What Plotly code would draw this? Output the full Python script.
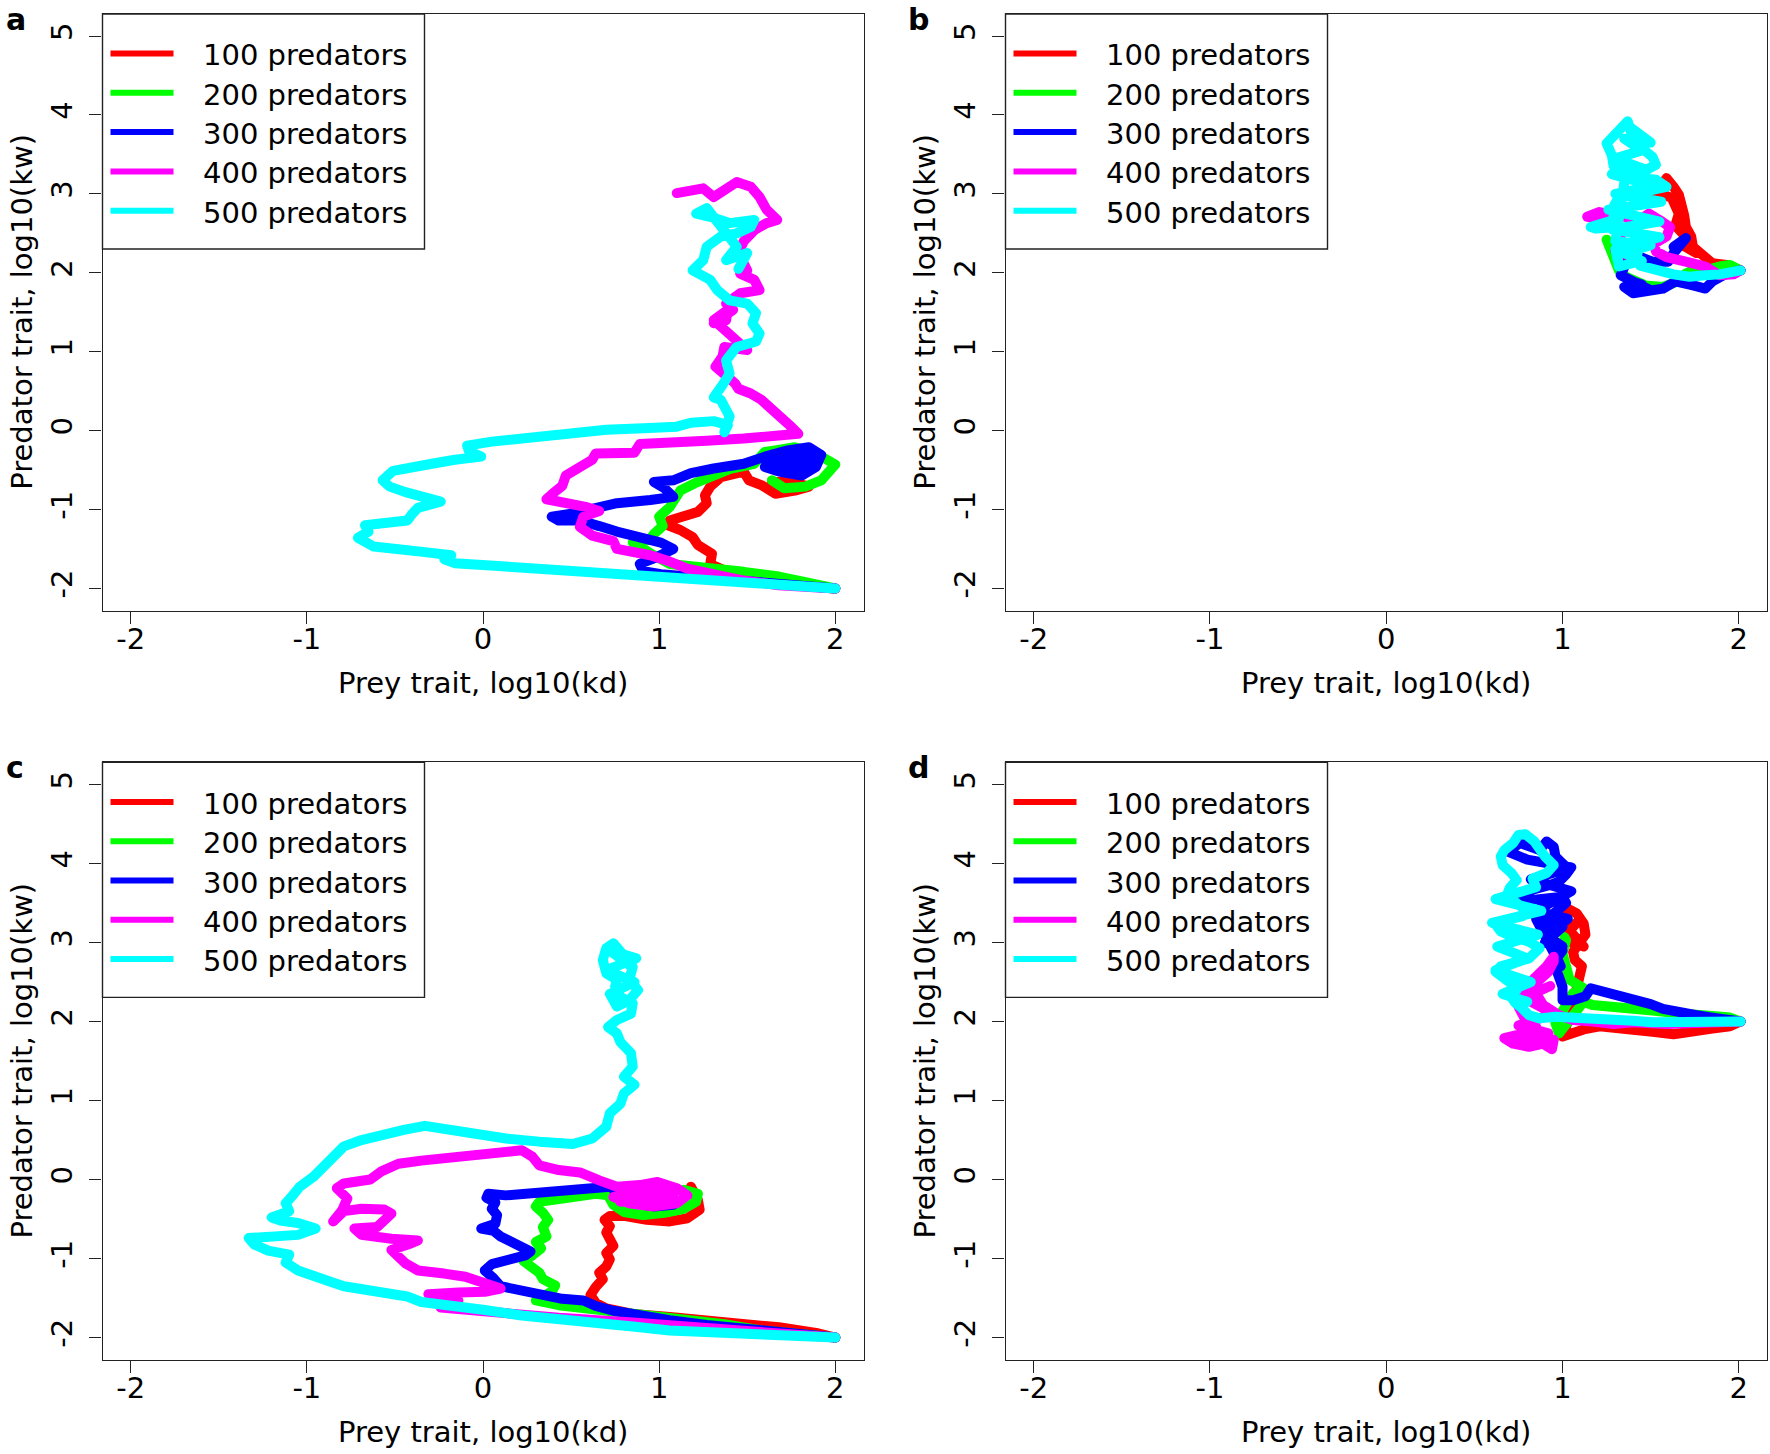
import plotly.graph_objects as go

# ---------------- data ----------------
SERIES = ["100 predators", "200 predators", "300 predators", "400 predators", "500 predators"]
COLORS = ["#FF0000", "#00FF00", "#0000FF", "#FF00FF", "#00FFFF"]
PANEL_LABELS = ["a", "b", "c", "d"]
X_TICKS = [-2, -1, 0, 1, 2]
X_TICK_TEXT = ["-2", "-1", "0", "1", "2"]
Y_TICKS = [-2, -1, 0, 1, 2, 3, 4, 5]
Y_TICK_TEXT = ["-2", "-1", "0", "1", "2", "3", "4", "5"]
X_TITLE = "Prey trait, log10(kd)"
Y_TITLE = "Predator trait, log10(kw)"

# panel a
A100_X = [2.00, 1.79, 1.58, 1.37, 1.29, 1.30, 1.22, 1.19, 1.12, 1.05, 1.06, 1.16, 1.22, 1.27, 1.26, 1.29, 1.35, 1.48, 1.51, 1.58, 1.66, 1.77, 1.85, 1.75, 1.64]
A100_Y = [-2.00, -1.96, -1.88, -1.77, -1.69, -1.56, -1.45, -1.35, -1.26, -1.20, -1.14, -1.09, -1.03, -0.92, -0.82, -0.71, -0.59, -0.52, -0.63, -0.69, -0.80, -0.76, -0.71, -0.65, -0.65]
A200_X = [2.00, 1.79, 1.68, 1.48, 1.27, 1.06, 0.97, 0.89, 0.85, 0.95, 0.97, 1.02, 1.00, 1.06, 1.10, 1.12, 1.20, 1.31, 1.41, 1.54, 1.60, 1.66, 1.77, 1.89, 2.00, 1.92, 1.83, 1.71, 1.64]
A200_Y = [-2.00, -1.90, -1.85, -1.79, -1.73, -1.69, -1.58, -1.47, -1.42, -1.38, -1.31, -1.21, -1.09, -0.97, -0.86, -0.76, -0.67, -0.57, -0.48, -0.42, -0.27, -0.25, -0.21, -0.29, -0.43, -0.63, -0.71, -0.73, -0.63]
A300_X = [2.00, 1.68, 1.27, 1.01, 0.91, 0.89, 0.97, 1.08, 1.01, 0.93, 0.85, 0.76, 0.66, 0.55, 0.43, 0.39, 0.51, 0.62, 0.76, 0.95, 1.08, 1.03, 0.97, 1.08, 1.18, 1.31, 1.48, 1.60, 1.73, 1.85, 1.92, 1.89, 1.81, 1.68, 1.60, 1.73, 1.85, 1.75, 1.65, 1.80, 1.90]
A300_Y = [-2.00, -1.95, -1.88, -1.82, -1.78, -1.69, -1.62, -1.50, -1.42, -1.38, -1.33, -1.28, -1.21, -1.14, -1.14, -1.09, -1.05, -0.99, -0.92, -0.88, -0.84, -0.73, -0.65, -0.63, -0.54, -0.48, -0.42, -0.33, -0.25, -0.21, -0.31, -0.46, -0.57, -0.52, -0.46, -0.38, -0.42, -0.46, -0.35, -0.30, -0.38]
A400_X = [2.00, 1.68, 1.48, 1.27, 1.16, 1.06, 0.95, 0.76, 0.74, 0.62, 0.55, 0.57, 0.66, 0.59, 0.43, 0.36, 0.40, 0.45, 0.47, 0.55, 0.62, 0.64, 0.76, 0.86, 0.89, 1.06, 1.27, 1.48, 1.68, 1.79, 1.75, 1.68, 1.64, 1.58, 1.52, 1.45, 1.43, 1.35, 1.32, 1.36, 1.37, 1.50, 1.43, 1.35, 1.31, 1.39, 1.38, 1.31, 1.42, 1.38, 1.46, 1.57, 1.54, 1.46, 1.50, 1.45, 1.48, 1.54, 1.61, 1.67, 1.61, 1.57, 1.52, 1.44, 1.38, 1.31, 1.25, 1.16, 1.10]
A400_Y = [-2.00, -1.96, -1.90, -1.82, -1.75, -1.66, -1.58, -1.50, -1.40, -1.33, -1.22, -1.09, -1.02, -0.97, -0.92, -0.87, -0.79, -0.70, -0.57, -0.46, -0.37, -0.29, -0.27, -0.28, -0.17, -0.16, -0.13, -0.10, -0.08, -0.04, 0.05, 0.20, 0.26, 0.39, 0.47, 0.53, 0.60, 0.75, 0.81, 0.94, 1.06, 1.02, 1.17, 1.32, 1.40, 1.53, 1.40, 1.36, 1.53, 1.61, 1.74, 1.78, 1.91, 1.99, 2.03, 2.25, 2.40, 2.54, 2.63, 2.67, 2.80, 2.96, 3.09, 3.15, 3.05, 2.96, 3.07, 3.05, 3.01]
A500_X = [2.00, 1.68, 1.27, 0.85, 0.43, 0.07, -0.16, -0.22, -0.18, -0.33, -0.48, -0.62, -0.71, -0.65, -0.67, -0.55, -0.43, -0.40, -0.37, -0.24, -0.35, -0.44, -0.53, -0.57, -0.51, -0.41, -0.29, -0.16, -0.01, -0.08, -0.09, 0.05, 0.26, 0.49, 0.70, 0.91, 1.10, 1.18, 1.31, 1.39, 1.37, 1.40, 1.35, 1.31, 1.36, 1.40, 1.38, 1.44, 1.55, 1.57, 1.53, 1.55, 1.50, 1.40, 1.33, 1.29, 1.19, 1.25, 1.27, 1.35, 1.44, 1.52, 1.54, 1.40, 1.29, 1.21, 1.27, 1.31, 1.44, 1.38, 1.50, 1.45]
A500_Y = [-2.00, -1.95, -1.89, -1.82, -1.76, -1.72, -1.68, -1.63, -1.58, -1.54, -1.50, -1.47, -1.36, -1.28, -1.20, -1.17, -1.14, -1.05, -0.98, -0.90, -0.85, -0.78, -0.71, -0.63, -0.51, -0.46, -0.42, -0.37, -0.33, -0.26, -0.19, -0.14, -0.09, -0.05, 0.01, 0.03, 0.05, 0.10, 0.12, 0.07, -0.02, 0.18, 0.39, 0.42, 0.58, 0.72, 0.89, 1.06, 1.13, 1.23, 1.36, 1.49, 1.61, 1.65, 1.78, 1.91, 2.03, 2.16, 2.33, 2.46, 2.50, 2.58, 2.67, 2.63, 2.71, 2.75, 2.82, 2.71, 2.33, 2.16, 2.25, 2.05]

# panel b
B100_X = [2.01, 1.93, 1.85, 1.80, 1.74, 1.73, 1.70, 1.69, 1.68, 1.66, 1.63, 1.59, 1.56, 1.51, 1.46, 1.55, 1.62, 1.66, 1.64, 1.70, 1.68, 1.76]
B100_Y = [2.03, 2.10, 2.12, 2.20, 2.33, 2.46, 2.58, 2.73, 2.88, 2.99, 3.09, 3.20, 3.11, 3.05, 3.08, 3.02, 2.95, 2.75, 2.60, 2.45, 2.35, 2.25]
B200_X = [2.01, 1.95, 1.89, 1.81, 1.76, 1.70, 1.63, 1.57, 1.47, 1.36, 1.32, 1.29, 1.26, 1.25]
B200_Y = [2.03, 2.10, 2.08, 2.03, 2.06, 1.99, 1.87, 1.82, 1.84, 1.95, 2.03, 2.20, 2.33, 2.42]
B300_X = [2.01, 1.93, 1.85, 1.81, 1.74, 1.64, 1.57, 1.47, 1.40, 1.35, 1.45, 1.38, 1.50, 1.33, 1.36, 1.44, 1.51, 1.60, 1.63, 1.68, 1.70, 1.63]
B300_Y = [2.03, 1.99, 1.89, 1.80, 1.84, 1.89, 1.80, 1.75, 1.74, 1.82, 1.85, 1.90, 1.78, 1.97, 2.12, 2.20, 2.14, 2.14, 2.25, 2.37, 2.44, 2.33]
B400_X = [2.01, 1.97, 1.89, 1.81, 1.74, 1.66, 1.59, 1.53, 1.52, 1.59, 1.61, 1.55, 1.49, 1.44, 1.36, 1.29, 1.21, 1.14, 1.19, 1.27, 1.33, 1.30, 1.37]
B400_Y = [2.03, 1.98, 1.97, 2.08, 2.12, 2.16, 2.20, 2.27, 2.37, 2.46, 2.58, 2.67, 2.75, 2.67, 2.71, 2.75, 2.77, 2.71, 2.69, 2.73, 2.45, 2.28, 2.22]
B500_X = [2.01, 1.97, 1.89, 1.81, 1.72, 1.63, 1.51, 1.44, 1.42, 1.44, 1.40, 1.32, 1.19, 1.16, 1.29, 1.29, 1.32, 1.40, 1.51, 1.59, 1.53, 1.44, 1.36, 1.47, 1.53, 1.51, 1.46, 1.45, 1.39, 1.37, 1.33, 1.28, 1.25, 1.28, 1.29, 1.36, 1.30, 1.50, 1.35, 1.45, 1.32, 1.30, 1.55, 1.28, 1.55, 1.26, 1.56, 1.30, 1.52, 1.28, 1.48, 1.30, 1.45, 1.35, 1.50, 1.38]
B500_Y = [2.03, 2.01, 1.98, 1.97, 1.95, 1.98, 2.03, 2.09, 2.20, 2.37, 2.50, 2.58, 2.56, 2.58, 2.67, 2.84, 2.96, 3.03, 3.05, 3.09, 3.18, 3.20, 3.22, 3.30, 3.37, 3.47, 3.56, 3.66, 3.77, 3.92, 3.83, 3.75, 3.64, 3.49, 3.35, 3.28, 2.40, 2.35, 2.25, 2.15, 2.08, 2.30, 2.45, 2.55, 2.65, 2.80, 2.90, 3.00, 3.10, 3.25, 3.30, 3.45, 3.55, 3.70, 3.65, 3.85]

# panel c
C100_X = [2.00, 1.89, 1.68, 1.48, 1.27, 1.06, 0.85, 0.70, 0.64, 0.61, 0.64, 0.68, 0.66, 0.70, 0.72, 0.70, 0.74, 0.72, 0.70, 0.72, 0.69, 0.72, 0.80, 0.93, 1.06, 1.16, 1.23, 1.22, 1.18]
C100_Y = [-2.00, -1.94, -1.87, -1.82, -1.78, -1.74, -1.70, -1.63, -1.56, -1.46, -1.36, -1.26, -1.18, -1.10, -1.01, -0.93, -0.84, -0.76, -0.67, -0.59, -0.51, -0.46, -0.46, -0.51, -0.53, -0.49, -0.38, -0.26, -0.09]
C200_X = [2.00, 1.79, 1.58, 1.37, 1.16, 0.95, 0.74, 0.59, 0.43, 0.30, 0.39, 0.41, 0.34, 0.32, 0.27, 0.23, 0.28, 0.33, 0.30, 0.36, 0.34, 0.37, 0.34, 0.30, 0.32, 0.43, 0.55, 0.64, 0.71, 0.74, 0.80, 0.91, 1.03, 1.14, 1.21, 1.22, 1.14]
C200_Y = [-2.00, -1.97, -1.91, -1.83, -1.78, -1.73, -1.69, -1.64, -1.59, -1.53, -1.42, -1.34, -1.26, -1.18, -1.11, -1.03, -0.96, -0.87, -0.79, -0.72, -0.60, -0.51, -0.42, -0.34, -0.28, -0.25, -0.22, -0.18, -0.20, -0.32, -0.41, -0.45, -0.42, -0.37, -0.28, -0.18, -0.13]
C300_X = [2.00, 1.79, 1.48, 1.27, 1.06, 0.85, 0.74, 0.64, 0.57, 0.45, 0.30, 0.18, 0.10, 0.06, 0.01, 0.05, 0.14, 0.24, 0.27, 0.22, 0.15, 0.10, 0.06, -0.01, 0.07, 0.08, 0.05, 0.07, 0.02, 0.03, 0.13, 0.30, 0.47, 0.62, 0.72, 0.78, 0.85, 0.97, 1.08]
C300_Y = [-2.00, -1.96, -1.90, -1.84, -1.78, -1.72, -1.66, -1.60, -1.53, -1.51, -1.45, -1.41, -1.35, -1.25, -1.15, -1.07, -1.03, -0.96, -0.91, -0.86, -0.79, -0.72, -0.65, -0.62, -0.56, -0.45, -0.37, -0.29, -0.23, -0.18, -0.20, -0.17, -0.14, -0.11, -0.09, -0.18, -0.30, -0.34, -0.32]
C400_X = [2.00, 1.68, 1.27, 0.85, 0.43, 0.01, -0.24, -0.14, -0.31, -0.14, 0.01, 0.10, 0.03, -0.10, -0.22, -0.37, -0.44, -0.49, -0.52, -0.41, -0.37, -0.52, -0.69, -0.73, -0.60, -0.52, -0.56, -0.69, -0.79, -0.85, -0.80, -0.77, -0.83, -0.79, -0.64, -0.58, -0.48, -0.35, -0.20, -0.08, 0.05, 0.13, 0.22, 0.28, 0.32, 0.43, 0.55, 0.66, 0.76, 0.89, 0.99, 1.10, 1.16, 1.10, 0.97, 0.83, 0.74, 0.85, 1.01, 0.95, 0.80, 1.08, 0.78, 1.05, 0.90]
C400_Y = [-2.00, -1.94, -1.87, -1.81, -1.75, -1.68, -1.62, -1.53, -1.45, -1.43, -1.42, -1.38, -1.32, -1.23, -1.19, -1.15, -1.06, -0.97, -0.89, -0.81, -0.77, -0.75, -0.70, -0.62, -0.60, -0.43, -0.38, -0.37, -0.40, -0.53, -0.39, -0.24, -0.11, -0.05, 0.00, 0.10, 0.20, 0.24, 0.28, 0.31, 0.34, 0.37, 0.37, 0.29, 0.18, 0.12, 0.09, -0.01, -0.09, -0.07, -0.03, -0.11, -0.20, -0.30, -0.34, -0.30, -0.22, -0.18, -0.20, -0.26, -0.15, -0.22, -0.28, -0.10, -0.25]
C500_X = [2.00, 1.68, 1.37, 1.06, 0.85, 0.64, 0.43, 0.22, 0.01, -0.20, -0.35, -0.43, -0.54, -0.66, -0.79, -0.87, -0.96, -1.05, -1.12, -1.10, -1.22, -1.30, -1.33, -1.20, -1.05, -0.95, -1.05, -1.15, -1.20, -1.10, -1.12, -1.08, -1.04, -0.96, -0.87, -0.79, -0.69, -0.56, -0.45, -0.33, -0.20, -0.04, 0.13, 0.32, 0.51, 0.62, 0.70, 0.72, 0.78, 0.80, 0.86, 0.80, 0.85, 0.84, 0.78, 0.76, 0.71, 0.76, 0.84, 0.85, 0.78, 0.75, 0.76, 0.70, 0.68, 0.70, 0.74, 0.79, 0.85, 0.83, 0.88, 0.83, 0.76, 0.72, 0.86, 0.70, 0.87, 0.72, 0.84]
C500_Y = [-2.00, -1.98, -1.95, -1.91, -1.86, -1.82, -1.77, -1.72, -1.65, -1.59, -1.55, -1.48, -1.44, -1.40, -1.35, -1.29, -1.21, -1.15, -1.05, -0.95, -0.90, -0.82, -0.74, -0.72, -0.70, -0.62, -0.55, -0.52, -0.48, -0.40, -0.30, -0.20, -0.09, 0.04, 0.25, 0.42, 0.50, 0.58, 0.63, 0.68, 0.63, 0.58, 0.52, 0.48, 0.45, 0.52, 0.67, 0.84, 0.96, 1.09, 1.20, 1.30, 1.43, 1.60, 1.74, 1.85, 1.93, 2.02, 2.10, 2.23, 2.31, 2.44, 2.53, 2.61, 2.78, 2.93, 2.99, 2.86, 2.69, 2.53, 2.40, 2.27, 2.19, 2.35, 2.50, 2.65, 2.80, 2.90, 2.70]

# panel d
D100_X = [2.01, 1.95, 1.85, 1.74, 1.63, 1.51, 1.40, 1.30, 1.21, 1.12, 1.04, 1.00, 1.02, 1.05, 1.07, 1.10, 1.11, 1.07, 1.06, 1.10, 1.13, 1.12, 1.08, 1.03, 1.00, 1.02, 1.05, 1.12, 1.04, 1.10]
D100_Y = [2.00, 1.94, 1.91, 1.88, 1.84, 1.87, 1.89, 1.90, 1.94, 1.90, 1.85, 1.81, 1.94, 2.10, 2.32, 2.57, 2.70, 2.78, 2.88, 3.01, 3.10, 3.24, 3.37, 3.43, 3.33, 3.20, 3.00, 2.95, 3.15, 3.30]
D200_X = [2.01, 1.95, 1.85, 1.74, 1.63, 1.51, 1.40, 1.29, 1.17, 1.12, 1.05, 0.98, 0.96, 1.00, 1.06, 1.12, 1.04, 1.02, 1.00, 1.02, 1.01]
D200_Y = [2.00, 2.05, 2.07, 2.08, 2.11, 2.14, 2.16, 2.18, 2.21, 2.25, 2.06, 1.85, 1.98, 2.15, 2.36, 2.42, 2.53, 2.70, 2.86, 3.03, 3.07]
D300_X = [2.01, 1.95, 1.85, 1.76, 1.66, 1.57, 1.50, 1.42, 1.33, 1.25, 1.19, 1.16, 1.13, 1.06, 1.00, 1.00, 0.95, 1.00, 0.90, 1.00, 0.85, 0.99, 0.96, 0.93, 0.90, 0.91, 0.96, 1.02, 1.00, 0.93, 0.83, 0.77, 0.83, 0.93, 0.98, 1.02, 1.04, 1.00, 0.96, 0.95, 0.91, 0.87, 0.81, 0.76, 0.69, 0.80, 1.05, 0.82, 1.05, 0.85, 1.03, 0.90, 1.00]
D300_Y = [2.00, 2.03, 2.05, 2.08, 2.12, 2.16, 2.22, 2.26, 2.31, 2.35, 2.39, 2.42, 2.32, 2.27, 2.27, 2.44, 2.75, 2.90, 3.00, 3.20, 3.30, 2.70, 2.86, 2.99, 3.14, 3.29, 3.37, 3.50, 3.58, 3.56, 3.54, 3.58, 3.67, 3.73, 3.77, 3.86, 3.92, 4.00, 4.09, 4.21, 4.28, 4.17, 4.21, 4.26, 4.15, 4.05, 3.95, 3.80, 3.65, 3.40, 3.30, 3.10, 2.95]
D400_X = [2.01, 1.91, 1.78, 1.59, 1.40, 1.29, 1.17, 1.06, 0.98, 0.93, 0.89, 0.86, 0.83, 0.87, 0.92, 0.95, 0.95, 0.91, 0.85, 0.81, 0.77, 0.75, 0.78, 0.84, 0.86, 0.81, 0.74, 0.67, 0.72, 0.81, 0.89, 0.94, 0.95, 0.70, 0.92, 0.75, 0.95, 0.78, 0.93]
D400_Y = [2.00, 1.99, 1.99, 1.97, 1.99, 1.97, 2.00, 2.02, 2.08, 2.15, 2.21, 2.32, 2.42, 2.53, 2.63, 2.76, 2.82, 2.70, 2.57, 2.48, 2.32, 2.19, 2.06, 1.97, 1.89, 1.83, 1.83, 1.79, 1.72, 1.68, 1.72, 1.65, 1.77, 1.75, 1.85, 1.95, 2.10, 2.30, 2.45]
D500_X = [2.01, 1.95, 1.85, 1.74, 1.63, 1.51, 1.40, 1.29, 1.17, 1.06, 0.96, 0.87, 0.81, 0.77, 0.73, 0.70, 0.74, 0.71, 0.65, 0.62, 0.65, 0.73, 0.81, 0.87, 0.81, 0.72, 0.65, 0.63, 0.69, 0.77, 0.79, 0.74, 0.68, 0.70, 0.74, 0.71, 0.66, 0.65, 0.67, 0.72, 0.75, 0.79, 0.84, 0.90, 0.95, 0.91, 0.83, 0.85, 0.62, 0.88, 0.60, 0.86, 0.63, 0.80, 0.62, 0.82, 0.66, 0.80]
D500_Y = [2.00, 2.00, 1.98, 1.97, 1.98, 1.99, 2.01, 2.03, 2.05, 2.07, 2.06, 2.04, 2.08, 2.17, 2.24, 2.34, 2.40, 2.48, 2.57, 2.63, 2.70, 2.74, 2.80, 2.93, 3.01, 3.07, 3.14, 3.20, 3.29, 3.33, 3.41, 3.50, 3.57, 3.69, 3.79, 3.88, 3.98, 4.09, 4.17, 4.26, 4.36, 4.37, 4.28, 4.09, 3.98, 3.88, 3.81, 3.70, 3.55, 3.40, 3.25, 3.10, 2.95, 2.80, 2.65, 2.50, 2.35, 2.25]

PANEL_SERIES = {
    "a": [(A100_X, A100_Y), (A200_X, A200_Y), (A300_X, A300_Y), (A400_X, A400_Y), (A500_X, A500_Y)],
    "b": [(B100_X, B100_Y), (B200_X, B200_Y), (B300_X, B300_Y), (B400_X, B400_Y), (B500_X, B500_Y)],
    "c": [(C100_X, C100_Y), (C200_X, C200_Y), (C300_X, C300_Y), (C400_X, C400_Y), (C500_X, C500_Y)],
    "d": [(D100_X, D100_Y), (D200_X, D200_Y), (D300_X, D300_Y), (D400_X, D400_Y), (D500_X, D500_Y)],
}

# ---------------- layout geometry (pixels) ----------------
W, H = 1770, 1454
BOX = {  # left, right, top, bottom
    "a": (102.5, 863.5, 14.0, 610.5),
    "b": (1005.5, 1767.0, 14.0, 610.5),
    "c": (102.5, 863.5, 762.4, 1359.7),
    "d": (1005.5, 1767.0, 762.4, 1359.7),
}
FONT = "DejaVu Sans"
FS = 29


def px(x):
    return x / W


def py(y):
    return 1 - y / H


fig = go.Figure()
layout = dict(
    width=W, height=H, margin=dict(l=0, r=0, t=0, b=0),
    paper_bgcolor="white", plot_bgcolor="white", showlegend=False,
    font=dict(family=FONT, size=FS, color="black"),
)
shapes, annotations = [], []

for i, letter in enumerate(PANEL_LABELS, start=1):
    L, R, T, B = BOX[letter]
    xa = "xaxis" if i == 1 else f"xaxis{i}"
    ya = "yaxis" if i == 1 else f"yaxis{i}"
    xr = "x" if i == 1 else f"x{i}"
    yr = "y" if i == 1 else f"y{i}"
    axis_common = dict(
        showgrid=False, zeroline=False, showline=True, mirror=True,
        linecolor="#222222", linewidth=1.4, ticks="outside", ticklen=12,
        tickwidth=1.4, tickcolor="#222222", tickmode="array",
        tickfont=dict(family=FONT, size=FS, color="black"),
    )
    layout[xa] = dict(axis_common, domain=[px(L), px(R)], range=[-2.16, 2.16],
                      anchor=yr, tickvals=X_TICKS, ticktext=X_TICK_TEXT,
                      ticklabelstandoff=-10)
    layout[ya] = dict(axis_common, domain=[py(B), py(T)], range=[-2.28, 5.28],
                      anchor=xr, tickvals=Y_TICKS, ticktext=Y_TICK_TEXT,
                      tickangle=-90, ticklabelstandoff=6)

    for (xs, ys), name, col in zip(PANEL_SERIES[letter], SERIES, COLORS):
        fig.add_trace(go.Scatter(
            x=xs, y=ys, mode="lines", name=name, xaxis=xr, yaxis=yr,
            line=dict(color=col, width=10), hoverinfo="skip",
        ))

    # axis titles
    annotations.append(dict(text=X_TITLE, xref="paper", yref="paper",
                            x=px((L + R) / 2), y=py(B + 72.5), xanchor="center",
                            yanchor="middle", showarrow=False,
                            font=dict(family=FONT, size=FS, color="black")))
    annotations.append(dict(text=Y_TITLE, xref="paper", yref="paper",
                            x=px(L - 80), y=py((T + B) / 2), xanchor="center",
                            yanchor="middle", textangle=-90, showarrow=False,
                            font=dict(family=FONT, size=FS, color="black")))
    # panel letter (text box kept inside the page)
    annotations.append(dict(text=f"<b>{letter}</b>", xref="paper", yref="paper",
                            x=px(L - 98), y=py(T - 13), xanchor="left",
                            yanchor="top", showarrow=False, borderpad=0,
                            font=dict(family=FONT, size=30, color="black")))

    # legend box
    shapes.append(dict(type="rect", xref="paper", yref="paper",
                       x0=px(L), x1=px(L + 322), y0=py(T + 235), y1=py(T),
                       line=dict(color="#222222", width=1.4), fillcolor="white",
                       layer="above"))
    for k, (name, col) in enumerate(zip(SERIES, COLORS)):
        yy = T + 39.5 + 39.3 * k
        shapes.append(dict(type="line", xref="paper", yref="paper",
                           x0=px(L + 8), x1=px(L + 71), y0=py(yy), y1=py(yy),
                           line=dict(color=col, width=6), layer="above"))
        annotations.append(dict(text=name, xref="paper", yref="paper",
                                x=px(L + 98), y=py(yy + 2), xanchor="left",
                                yanchor="middle", showarrow=False,
                                font=dict(family=FONT, size=FS, color="black")))

layout["shapes"] = shapes
layout["annotations"] = annotations
fig.update_layout(**layout)

POST = ("document.body.style.margin='0';"
        "var s=document.createElement('style');"
        "s.innerHTML='.js-line{stroke-linejoin:round !important;stroke-linecap:round !important;}';"
        "document.head.appendChild(s);")
fig.write_html("out.html", post_script=POST, config={"displayModeBar": False})
